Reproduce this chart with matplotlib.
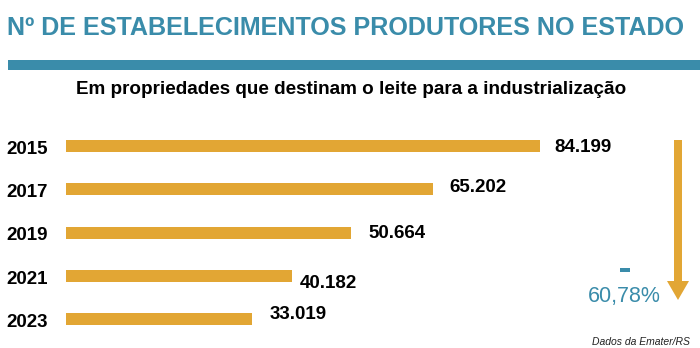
import matplotlib
matplotlib.use("Agg")
import matplotlib.pyplot as plt
from matplotlib.patches import FancyArrow, Rectangle

years = ["2015", "2017", "2019", "2021", "2023"]
counts = [84199, 65202, 50664, 40182, 33019]
count_labels = ["84.199", "65.202", "50.664", "40.182", "33.019"]
change_label = "60,78%"

title = "Nº DE ESTABELECIMENTOS PRODUTORES NO ESTADO"
subtitle = "Em propriedades que destinam o leite para a industrialização"
source = "Dados da Emater/RS"

GOLD = "#E2A634"
TEAL = "#3A8CAA"
W, H = 700, 348

# label nudges (px): gap after bar end, baseline drop below bar centre
label_gap = [14, 16, 17, 8, 18]
label_drop = [6, 3, 6, 12, 0]

plt.rcParams["font.family"] = ["Liberation Sans", "DejaVu Sans"]

fig = plt.figure(figsize=(W / 100, H / 100), dpi=100)

# bar axes: x=0 at px 66, 84199 at px 540; row centres at 146 + 43.25*i
x0, x_end = 66, 540
px_per_unit = (x_end - x0) / counts[0]
step, first = 43.25, 146
ax = fig.add_axes([x0 / W, 0, (W - x0) / W, 1])
ax.set_xlim(0, (W - x0) / px_per_unit)
ax.set_ylim((H - first) / step, -first / step)
ax.axis("off")
ypos = list(range(len(years)))
ax.barh(ypos, counts, height=12 / step, color=GOLD)

# overlay in pixel coordinates for decorations and text
deco = fig.add_axes([0, 0, 1, 1], zorder=-1)
deco.set_xlim(0, W)
deco.set_ylim(H, 0)
deco.axis("off")

deco.text(7, 35, title, fontsize=18.1, fontweight="bold", color=TEAL,
          ha="left", va="baseline")
deco.add_patch(Rectangle((8, 60), W - 8, 10, color=TEAL, lw=0))
deco.text(76, 94, subtitle, fontsize=13.6, fontweight="bold", color="black",
          ha="left", va="baseline")

for i, (yr, v, lab) in enumerate(zip(years, counts, count_labels)):
    yc = first + step * i
    deco.text(6, yc + 8, yr, fontsize=13.5, fontweight="bold", color="black",
              ha="left", va="baseline")
    xe = x0 + v * px_per_unit
    deco.text(xe + label_gap[i], yc + label_drop[i], lab, fontsize=13.5,
              fontweight="bold", color="black", ha="left", va="baseline")

deco.add_patch(FancyArrow(678, 140, 0, 160, width=8, head_width=22,
                          head_length=19, length_includes_head=True,
                          color=GOLD, lw=0))
deco.add_patch(Rectangle((620, 268), 10, 4, color=TEAL, lw=0))
deco.text(624, 302, change_label, fontsize=15.5, color=TEAL, ha="center", va="baseline")
deco.text(690, 345, source, fontsize=7.5, style="italic", color="#222222",
          ha="right", va="baseline")

fig.savefig("out.png", dpi=100)
